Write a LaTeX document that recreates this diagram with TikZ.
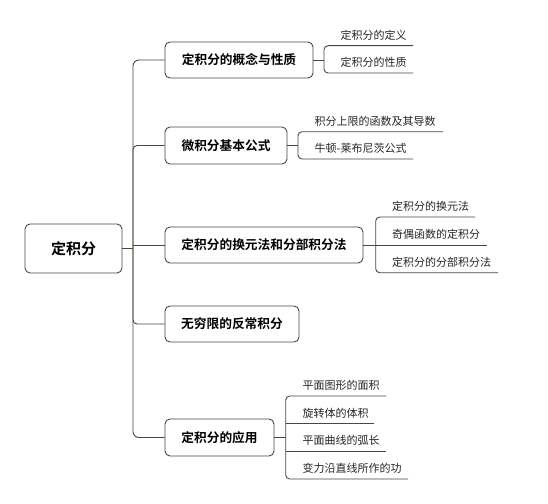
\documentclass[tikz,border=0pt]{standalone}
\usepackage{fontspec}
\setmainfont{Noto Sans CJK SC}
\newfontfamily\cjkb{Noto Sans CJK SC Bold}
\begin{document}
\begin{tikzpicture}[x=1pt,y=-1pt,
  ln/.style={draw=linec, line width=0.9pt},
  topic/.style={ln, rounded corners=5pt, inner sep=0pt, font=\cjkb\fontsize{12.7}{14}\selectfont, text=black},
  item/.style={anchor=base west, inner sep=0pt, font=\fontsize{11}{13}\selectfont, text=black!85},
]
\definecolor{linec}{HTML}{4B4641}
\useasboundingbox[fill=white] (0,0) rectangle (548,503);

% root and topics
\node[topic, minimum width=97pt, minimum height=49pt, font=\cjkb\fontsize{15}{17}\selectfont] (root) at (73.5,248.5) {定积分};
\node[topic, minimum width=148pt, minimum height=36pt] (b1) at (239,60) {定积分的概念与性质};
\node[topic, minimum width=122pt, minimum height=37pt] (b2) at (226,145.5) {微积分基本公式};
\node[topic, minimum width=198pt, minimum height=36pt] (b3) at (264,245) {定积分的换元法和分部积分法};
\node[topic, minimum width=134pt, minimum height=36pt] (b4) at (232,324) {无穷限的反常积分};
\node[topic, minimum width=109pt, minimum height=37pt] (b5) at (219.5,437.5) {定积分的应用};

% trunk
\coordinate (trunk) at (133,248.5);
\draw[ln] (root.east) -- (trunk);
\draw[ln, rounded corners=6pt] (b1.west) -| (trunk);
\draw[ln, rounded corners=6pt] (b5.west) -| (trunk);
\draw[ln, rounded corners=4pt] (b2.west) -| (trunk);
\draw[ln, rounded corners=4pt] (b4.west) -| (trunk);
\draw[ln] (b3.west) -- (b3.west -| trunk);

% group 1
\coordinate (g1) at (324,60);
\node[item] (i11) at (340.5,39.2) {定积分的定义};
\node[item] (i12) at (340.5,66.5) {定积分的性质};
\draw[ln] (b1.east) -- (g1);
\draw[ln, rounded corners=4pt] (413,45.7) -- (324,45.7) -- (324,73) -- (413,73);

% group 2
\coordinate (g2) at (298,145.5);
\node[item] (i21) at (314.5,125.2) {积分上限的函数及其导数};
\node[item] (i22) at (314.5,152.5) {牛顿-莱布尼茨公式};
\draw[ln] (b2.east) -- (g2);
\draw[ln, rounded corners=4pt] (443,131.7) -- (298,131.7) -- (298,159) -- (413,159);

% group 3
\node[item] (i31) at (392,210.5) {定积分的换元法};
\node[item] (i32) at (392,238.5) {奇偶函数的定积分};
\node[item] (i33) at (392,266.2) {定积分的分部积分法};
\coordinate (g3e) at (487,245);
\draw[ln] (b3.east) -- (g3e);
\draw[ln, rounded corners=4pt] (475,217) -- (375.7,217) -- (375.7,272.7) -- (498,272.7);

% group 5
\coordinate (g5) at (285.7,437.5);
\node[item] (i51) at (302.5,389.5) {平面图形的面积};
\node[item] (i52) at (302.5,417.2) {旋转体的体积};
\node[item] (i53) at (302.5,444.5) {平面曲线的弧长};
\node[item] (i54) at (302.5,472.5) {变力沿直线所作的功};
\draw[ln] (b5.east) -- (g5);
\draw[ln, rounded corners=4pt] (386,396) -- (285.7,396) -- (285.7,479) -- (408,479);
\draw[ln] (285.7,423.7) -- (374,423.7);
\draw[ln] (285.7,451) -- (386,451);
\end{tikzpicture}
\end{document}
